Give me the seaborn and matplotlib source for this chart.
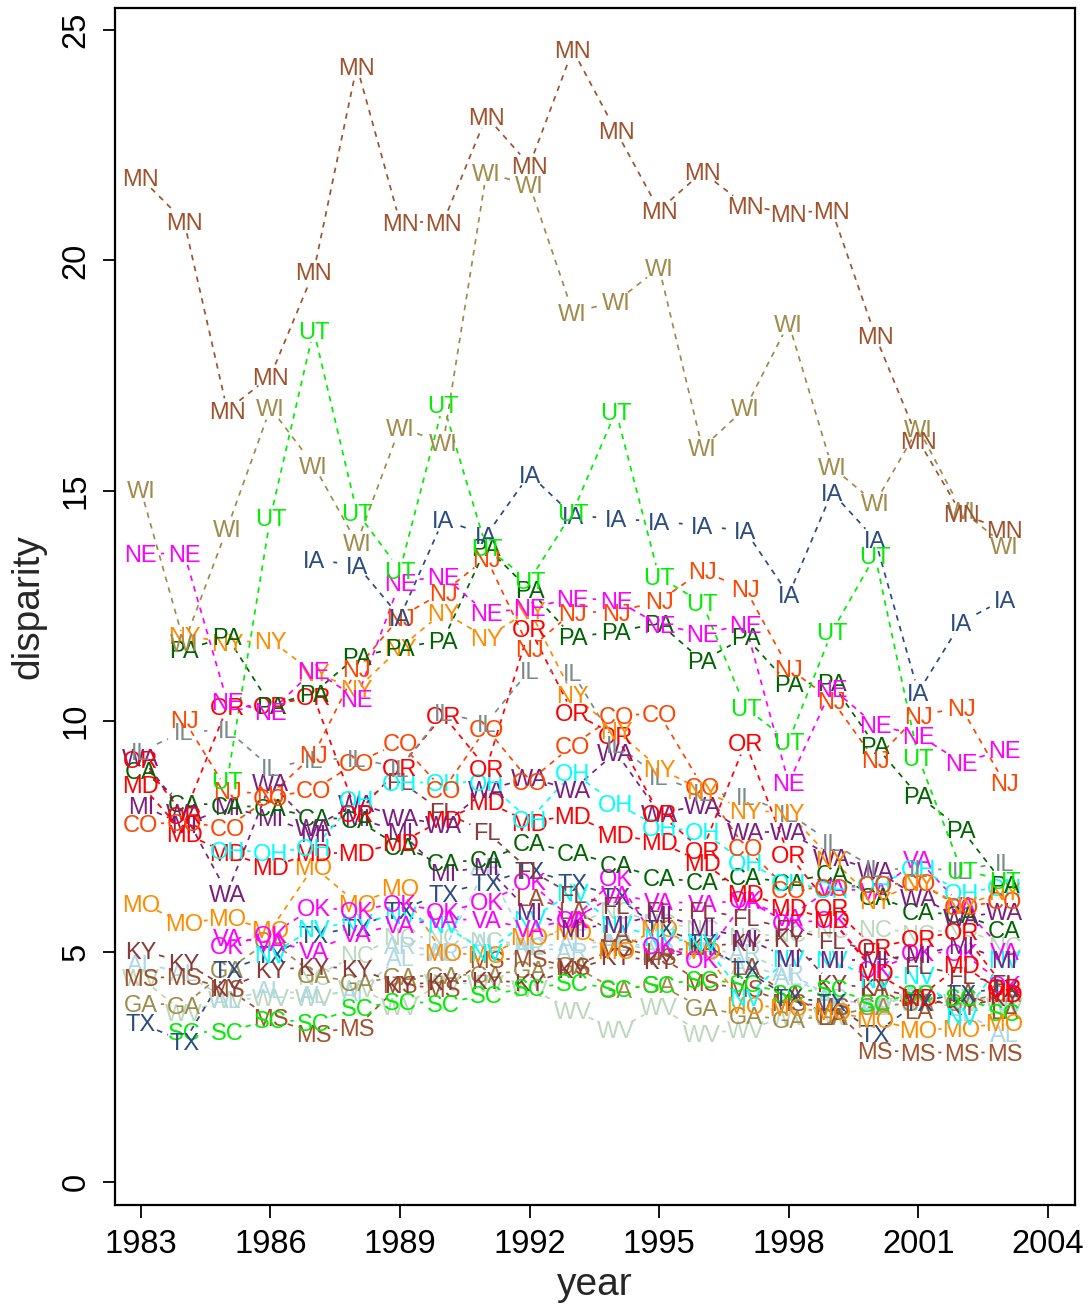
import numpy as np
import pandas as pd
import matplotlib
matplotlib.use("Agg")
import matplotlib.pyplot as plt
import seaborn as sns

nan = np.nan
years = [1983, 1984, 1985, 1986, 1987, 1988, 1989, 1990, 1991, 1992, 1993,
         1994, 1995, 1996, 1997, 1998, 1999, 2000, 2001, 2002, 2003]

MN = [21.79, 20.85, 16.75, 17.49, 19.75, 24.22, 20.83, 20.83, 23.13, 22.07, 24.57,
      22.81, 21.09, 21.92, 21.20, 21.03, 21.09, 18.38, 16.10, 14.50, 14.15]
WI = [15.02, 11.70, 14.19, 16.80, 15.56, 13.87, 16.38, 16.04, 21.90, 21.64, 18.88,
      19.10, 19.84, 15.93, 16.80, 18.64, 15.52, 14.74, 16.36, 14.58, 13.82]
UT = [nan, nan, 8.72, 14.43, 18.49, 14.54, 13.28, 16.88, 13.76, 13.06, 14.54,
      16.73, 13.13, 12.57, 10.29, 9.57, 11.94, 13.59, 9.22, 6.77, 6.55]
IA = [nan, nan, nan, nan, 13.50, 13.39, 12.26, 14.37, 14.04, 15.36, 14.47,
      14.39, 14.34, 14.24, 14.13, 12.74, 14.97, 13.95, 10.63, 12.15, 12.65]
NE = [13.63, 13.65, 10.42, 10.20, 11.11, 10.50, 13.02, 13.15, 12.35, 12.46, 12.67,
      12.63, 12.09, 11.91, 12.09, 8.66, 10.72, 9.92, 9.70, 9.11, 9.38]
NJ = [nan, 10.03, 8.50, 8.40, 9.27, 11.15, 12.26, 12.80, 13.54, 11.57, 12.37,
      12.37, 12.61, 13.26, 12.87, 11.15, 10.46, 9.16, 10.13, 10.29, 8.66]
PA = [nan, 11.55, 11.83, 10.35, 10.61, 11.41, 11.59, 11.76, 13.78, 12.85, 11.83,
      11.94, 12.13, 11.31, 11.83, 10.81, 10.83, 9.48, 8.38, 7.66, 6.45]
NY = [nan, 11.87, 11.70, 11.76, 11.05, 10.70, 11.59, 12.37, 11.81, 12.41, 10.57,
      9.80, 8.98, 8.50, 8.07, 8.01, 7.00, 6.10, 6.50, 6.00, 6.30]
IL = [9.35, 9.77, 9.81, 9.00, 9.16, 9.20, 8.98, 10.18, 9.96, 11.11, 11.05,
      9.50, 8.79, 8.46, 8.36, 8.00, 7.36, 6.80, 6.80, 6.77, 6.94]
OR = [9.16, 7.96, 10.31, 10.35, 10.53, 8.00, 9.00, 10.13, 8.98, 12.02, 10.18,
      9.70, 8.00, 7.20, 9.53, 7.10, 5.95, 5.08, 5.29, 5.43, 4.23]
CO = [7.77, 7.80, 7.70, 8.35, 8.51, 9.11, 9.53, 8.51, 9.85, 8.70, 9.48,
      10.13, 10.16, 8.59, 7.25, 6.34, 6.40, 6.45, 6.49, 5.97, 6.10]
OH = [nan, nan, 7.20, 7.16, 7.25, 8.30, 8.66, 8.68, 8.68, 7.86, 8.88,
      8.22, 7.70, 7.60, 6.94, 6.49, 6.34, 6.45, 6.81, 6.29, 6.40]
WA = [9.22, 8.01, 6.27, 8.66, 7.70, 8.22, 7.92, 7.75, 8.51, 8.77, 8.51,
      9.33, 8.00, 8.18, 7.60, 7.60, 7.05, 6.77, 6.18, 5.75, 5.86]
MD = [8.62, 7.57, 7.14, 6.84, 7.14, 7.14, 7.36, 7.86, 8.25, 7.81, 7.96,
      7.53, 7.38, 6.94, 6.27, 5.95, 5.69, 4.54, 4.00, 4.71, 4.10]
CA = [8.94, 8.22, 8.18, 8.12, 7.92, 7.86, 7.27, 6.94, 6.99, 7.36, 7.16,
      6.88, 6.60, 6.51, 6.62, 6.50, 6.70, 6.20, 5.86, 5.80, 5.47]
MI = [8.18, 7.75, 8.14, 7.90, 7.57, 7.90, 7.60, 6.71, 6.84, 5.86, 5.51,
      5.58, 5.80, 5.53, 5.29, 4.86, 4.82, 4.82, 4.93, 5.14, 4.82]
FL = [nan, nan, nan, nan, nan, nan, 8.70, 8.03, 7.60, 6.77, 6.23,
      6.00, 5.90, 5.90, 5.73, 5.50, 5.25, 5.00, 4.70, 4.49, 4.30]
TX = [3.45, 3.04, 4.60, 4.93, 5.36, 5.53, 5.90, 6.27, 6.49, 6.77, 6.49,
      6.20, 5.50, 5.20, 4.60, 4.00, 3.90, 3.23, 3.90, 4.10, 4.20]
OK = [nan, nan, 5.14, 5.36, 5.95, 5.90, 6.05, 5.86, 6.08, 6.51, 5.69,
      6.60, 5.14, 4.82, 6.12, 5.62, 5.69, 4.60, 4.97, 4.99, 4.28]
VA = [nan, nan, 5.30, 5.20, 5.03, 5.40, 5.58, 5.70, 5.69, 5.50, 5.70,
      6.23, 6.08, 6.05, 6.10, 5.75, 6.38, 6.30, 6.99, 6.00, 5.00]
MO = [6.05, 5.62, 5.73, 5.47, 6.84, 6.05, 6.38, 4.97, 4.93, 5.32, 5.43,
      5.03, 5.51, 5.03, 3.84, 3.78, 3.69, 3.52, 3.30, 3.34, 3.45]
KY = [5.03, 4.77, 4.21, 4.60, 4.67, 4.64, 4.28, 4.34, 4.38, 4.32, 4.60,
      4.90, 4.80, 5.10, 5.20, 5.29, 4.30, 4.21, 4.00, 3.80, 4.00]
MS = [4.43, 4.45, 4.20, 3.56, 3.23, 3.36, 4.28, 4.20, 4.82, 4.86, 4.67,
      5.08, 4.90, 4.32, 4.20, 3.90, 3.80, 2.86, 2.82, 2.80, 2.82]
GA = [3.88, 3.84, 4.60, 5.25, 4.50, 4.32, 4.45, 4.49, 4.50, 4.60, 4.70,
      4.17, 4.28, 3.78, 3.62, 3.52, 3.60, 3.80, 3.90, 3.90, 4.10]
AL = [4.75, 4.54, 3.95, 4.17, 4.06, 4.12, 4.88, 4.99, 5.20, 5.10, 5.19,
      5.20, 5.10, 5.00, 4.70, 4.45, 4.01, 3.80, 4.10, 3.67, 3.23]
SC = [nan, 3.26, 3.26, 3.52, 3.47, 3.78, 3.91, 3.88, 4.06, 4.21, 4.32,
      4.20, 4.28, 4.40, 4.30, 4.10, 4.20, 3.88, 4.10, 4.00, 3.67]
WV = [4.43, 3.67, 3.95, 4.00, 4.00, 4.20, 3.80, 4.32, 4.30, 4.20, 3.73,
      3.30, 3.80, 3.23, 3.30, 3.60, 3.60, 3.80, 3.90, 3.90, 3.80]
NC = [nan, nan, nan, nan, 4.45, 4.93, 5.32, 5.32, 5.25, 5.14, 5.62,
      5.90, 5.62, 5.50, 5.32, 5.40, 5.47, 5.51, 5.40, 5.50, 5.14]
NV = [nan, nan, nan, 4.93, 5.51, 5.64, 5.79, 5.58, 4.99, 5.69, 6.29,
      5.58, 5.30, 5.20, 4.01, 4.86, 4.82, 4.40, 4.49, 3.60, 4.82]
LA = [nan, nan, nan, nan, nan, nan, nan, nan, nan, 6.18, 5.90,
      5.40, 5.00, 5.10, 4.67, 4.06, 3.58, 4.23, 3.73, 4.12, 3.73]
AR = [nan, nan, nan, nan, nan, nan, 5.14, 5.00, 6.84, 5.10, 5.00,
      5.20, 5.00, 5.03, 4.97, 4.54, 4.01, 3.80, 4.10, 4.00, 3.90]

series = {"WV": WV, "NC": NC, "AL": AL, "AR": AR, "GA": GA, "MS": MS, "LA": LA,
          "KY": KY, "SC": SC, "TX": TX, "MO": MO, "NV": NV, "VA": VA, "OK": OK,
          "FL": FL, "MI": MI, "CA": CA, "MD": MD, "WA": WA, "OH": OH, "CO": CO,
          "OR": OR, "IL": IL, "NY": NY, "PA": PA, "NJ": NJ, "NE": NE, "IA": IA,
          "UT": UT, "WI": WI, "MN": MN}

colors = {"MN": "#A0522D", "MS": "#A0522D", "LA": "#A0522D",
          "WI": "#A08B4B", "GA": "#A08B4B",
          "UT": "#00EE00", "SC": "#00EE00",
          "IA": "#2B4C7E", "TX": "#2B4C7E",
          "NE": "#FF00FF", "OK": "#FF00FF", "VA": "#FF00FF",
          "NJ": "#FF4500", "CO": "#FF4500",
          "PA": "#006400", "CA": "#006400",
          "NY": "#FF8C00", "MO": "#FF8C00",
          "IL": "#7A8B8B",
          "OR": "#FF0000", "MD": "#FF0000",
          "OH": "#00FFFF", "NV": "#00FFFF",
          "WA": "#7A1F80", "MI": "#7A1F80",
          "FL": "#8B3A3A", "KY": "#8B3A3A",
          "AL": "#ADD8E6", "AR": "#ADD8E6",
          "WV": "#BCD8BC", "NC": "#BCD8BC"}

sns.set_style("ticks")
plt.rcParams["font.family"] = ["Liberation Sans", "DejaVu Sans"]

W_PX, H_PX = 1088, 1307
fig = plt.figure(figsize=(W_PX / 100, H_PX / 100), dpi=100)
L, R, T, B = 115, 1075, 8, 1205
ax = fig.add_axes([L / W_PX, 1 - B / H_PX, (R - L) / W_PX, (B - T) / H_PX])
x0, x1 = 1982.40, 2004.63
y0, y1 = -0.50, 25.48
ax.set_xlim(x0, x1)
ax.set_ylim(y0, y1)

pxx = (R - L) / (x1 - x0)
pxy = (B - T) / (y1 - y0)

# build shortened segments (gaps around labels, like R type="b")
rows = []
seg = 0
ga, gb = 20.0, 12.0
for st, vals in series.items():
    for i in range(len(years) - 1):
        va_, vb_ = vals[i], vals[i + 1]
        if np.isnan(va_) or np.isnan(vb_):
            continue
        dx = (years[i + 1] - years[i]) * pxx
        dy = (vb_ - va_) * pxy
        ln = np.hypot(dx, dy)
        ux, uy = dx / ln, dy / ln
        gap = 1.0 / np.sqrt((ux / ga) ** 2 + (uy / gb) ** 2)
        if ln <= 2 * gap + 2:
            continue
        xs = years[i] + ux * gap / pxx
        ys = va_ + uy * gap / pxy
        xe = years[i + 1] - ux * gap / pxx
        ye = vb_ - uy * gap / pxy
        rows.append((st, seg, xs, ys))
        rows.append((st, seg, xe, ye))
        seg += 1
segdf = pd.DataFrame(rows, columns=["state", "seg", "x", "y"])

sns.lineplot(data=segdf, x="x", y="y", hue="state", units="seg", estimator=None,
             palette=colors, legend=False, sort=False, linewidth=1.25,
             linestyle=(0, (3.2, 3.2)), ax=ax)

for st, vals in series.items():
    for yr, v in zip(years, vals):
        if np.isnan(v):
            continue
        ax.annotate(st, (yr, v), xytext=(0, -6.1), textcoords="offset points",
                    ha="center", va="baseline", fontsize=17, color=colors[st])

ax.set_xticks([1983, 1986, 1989, 1992, 1995, 1998, 2001, 2004])
ax.set_yticks([0, 5, 10, 15, 20, 25])
ax.tick_params(axis="both", labelsize=23.5, length=9, width=1.3, color="black",
               labelcolor="black", pad=8)
for lab in ax.get_yticklabels():
    lab.set_rotation(90)
    lab.set_va("center")
ax.set_xlabel("year", fontsize=28, labelpad=5)
ax.set_ylabel("disparity", fontsize=28, labelpad=10)
for s in ax.spines.values():
    s.set_visible(True)
    s.set_linewidth(1.6)
    s.set_color("black")

fig.savefig("out.png", dpi=100, facecolor="white")
